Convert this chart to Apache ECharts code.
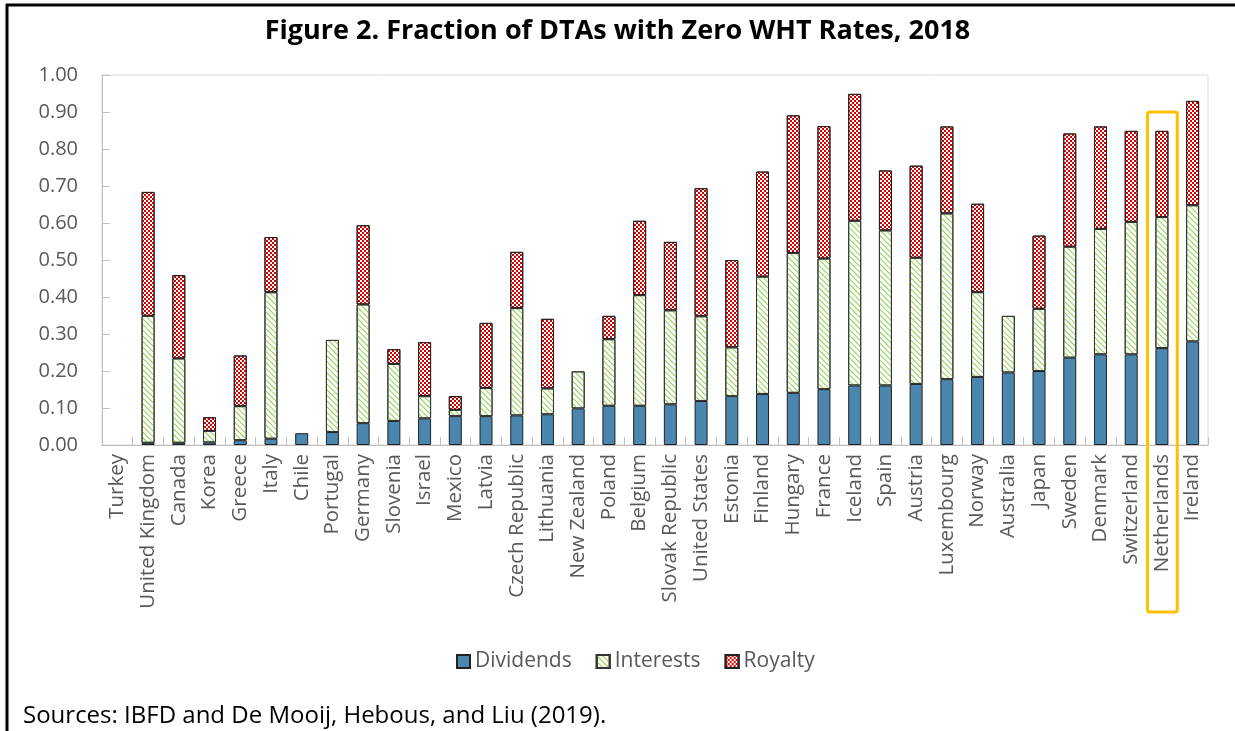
<!DOCTYPE html>
<html>
<head>
<meta charset="utf-8">
<script src="https://cdn.jsdelivr.net/npm/echarts@6/dist/echarts.min.js"></script>
<style>
html,body{margin:0;padding:0;background:#fff;}
#c{width:1235px;height:731px;}
</style>
</head>
<body>
<div id="c"></div>
<script>
var categories = ["Turkey","United Kingdom","Canada","Korea","Greece","Italy","Chile","Portugal","Germany","Slovenia","Israel","Mexico","Latvia","Czech Republic","Lithuania","New Zealand","Poland","Belgium","Slovak Republic","United States","Estonia","Finland","Hungary","France","Iceland","Spain","Austria","Luxembourg","Norway","Australia","Japan","Sweden","Denmark","Switzerland","Netherlands","Ireland"];
var dividends = [null,0.006,0.006,0.007,0.013,0.017,0.032,0.035,0.059,0.065,0.072,0.078,0.078,0.080,0.083,0.099,0.106,0.106,0.110,0.119,0.132,0.138,0.141,0.151,0.161,0.161,0.165,0.178,0.184,0.196,0.200,0.236,0.245,0.245,0.262,0.280];
var interests = [null,0.343,0.228,0.031,0.092,0.396,null,0.249,0.321,0.154,0.060,0.017,0.076,0.290,0.070,0.100,0.180,0.299,0.254,0.229,0.132,0.317,0.378,0.353,0.445,0.419,0.341,0.448,0.229,0.153,0.168,0.300,0.339,0.358,0.354,0.368];
var royalty = [null,0.335,0.225,0.037,0.137,0.149,null,null,0.214,0.040,0.146,0.037,0.176,0.152,0.188,null,0.063,0.201,0.185,0.346,0.236,0.284,0.372,0.358,0.343,0.162,0.249,0.235,0.239,null,0.198,0.306,0.277,0.246,0.233,0.282];
var yTicks = {min: 0, max: 1, interval: 0.1};
var highlighted = "Netherlands";

var FONT = "'Open Sans', 'Noto Sans', sans-serif";
var chart = echarts.init(document.getElementById('c'), null, {renderer: 'canvas'});
var option = {
  animation: false,
  backgroundColor: '#ffffff',
  title: {
    text: 'Figure 2. Fraction of DTAs with Zero WHT Rates, 2018',
    left: 'center', top: 13,
    textStyle: {fontFamily: FONT, fontSize: 27, fontWeight: 'bold', color: '#000'}
  },
  legend: {
    bottom: 54, left: 451,
    icon: 'rect', itemWidth: 13, itemHeight: 13, itemGap: 24,
    textStyle: {fontFamily: FONT, fontSize: 21, color: '#595959'},
    data: ['Dividends','Interests','Royalty']
  },
  grid: {left: 102, right: 27, top: 75, bottom: 286, show: true, borderColor: '#d9d9d9', borderWidth: 1, containLabel: false},
  xAxis: {
    type: 'category', data: categories,
    axisLine: {lineStyle: {color: '#bfbfbf'}},
    axisTick: {show: true, inside: true, length: 8, lineStyle: {color: '#bfbfbf'}},
    axisLabel: {rotate: 90, interval: 0, margin: 9, fontFamily: FONT, fontSize: 20.5, color: '#595959'}
  },
  yAxis: {
    type: 'value', min: yTicks.min, max: yTicks.max, interval: yTicks.interval,
    splitLine: {show: false},
    axisLine: {show: true, lineStyle: {color: '#bfbfbf'}},
    axisTick: {show: true, inside: true, length: 8, lineStyle: {color: '#bfbfbf'}},
    axisLabel: {margin: 24, fontFamily: FONT, fontSize: 20, color: '#595959', formatter: function(v){return v.toFixed(2);}}
  },
  series: [
    {name: 'Dividends', type: 'bar', stack: 'total', barWidth: 13, data: dividends,
     itemStyle: {color: '#4a86ae', borderColor: '#222', borderWidth: 1}},
    {name: 'Interests', type: 'bar', stack: 'total', barWidth: 13, data: interests,
     itemStyle: {color: '#ffffff', borderColor: '#333', borderWidth: 1,
       decal: {symbol: 'rect', symbolSize: 1, color: '#8fcf4a', dashArrayX: [1, 0], dashArrayY: [1, 3], rotation: Math.PI / 4}}},
    {name: 'Royalty', type: 'bar', stack: 'total', barWidth: 13, data: royalty,
     itemStyle: {color: '#ffffff', borderColor: '#222', borderWidth: 1,
       decal: {symbol: 'rect', symbolSize: 1, color: '#d40000', dashArrayX: [[2, 2], [0, 2, 2, 0]], dashArrayY: [2, 0], rotation: 0}}}
  ],
  graphic: [
    {type: 'line', shape: {x1: 6, y1: 5, x2: 1235, y2: 5}, style: {stroke: '#000', lineWidth: 3}},
    {type: 'line', shape: {x1: 7, y1: 4, x2: 7, y2: 731}, style: {stroke: '#000', lineWidth: 3}},
    {type: 'text', left: 23, top: 704, style: {text: 'Sources: IBFD and De Mooij, Hebous, and Liu (2019).', fontFamily: FONT, fontSize: 24, fill: '#000'}}
  ]
};
chart.setOption(option);

// highlight box around one category, positioned from the axes
var idx = categories.indexOf(highlighted);
var cx = chart.convertToPixel({xAxisIndex: 0}, idx);
var x0 = chart.convertToPixel({xAxisIndex: 0}, 0);
var x1 = chart.convertToPixel({xAxisIndex: 0}, 1);
var half = (x1 - x0) / 2;
var yTop = chart.convertToPixel({yAxisIndex: 0}, 0.9);
var yBase = chart.convertToPixel({yAxisIndex: 0}, 0);
chart.setOption({graphic: option.graphic.concat([
  {type: 'rect', shape: {x: cx - half + 1, y: yTop, width: 2 * half - 1, height: (yBase - yTop) + 167, r: 2},
   style: {fill: 'none', stroke: '#ffc000', lineWidth: 3}, z: 100}
])});
</script>
</body>
</html>
